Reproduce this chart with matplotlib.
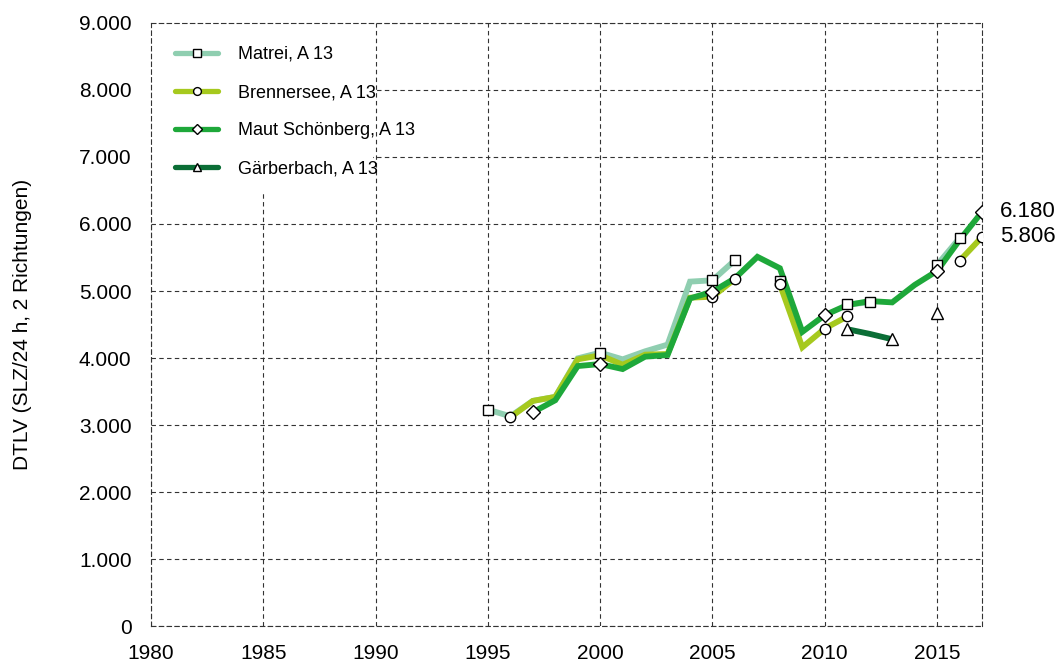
import numpy as np
import matplotlib
matplotlib.use("Agg")
import matplotlib.pyplot as plt
from matplotlib.ticker import FuncFormatter, MultipleLocator
from matplotlib.lines import Line2D
from matplotlib.patches import Rectangle

plt.rcParams['font.family'] = ['Liberation Sans', 'DejaVu Sans']

years = list(range(1995, 2018))
nan = np.nan
# values per year 1995..2017
matrei = [3230, 3130, 3360, 3420, 3995, 4080, 3980, 4100, 4200, 5140, 5160, 5460,
          nan, 5150, nan, nan, 4800, 4830, nan, nan, 5390, 5790, nan]
brennersee = [nan, 3115, 3360, 3420, 3980, 4040, 3900, 4050, 4060, 4900, 4915, 5180,
              nan, 5100, 4160, 4440, 4620, nan, nan, nan, nan, 5450, 5806]
maut = [nan, nan, 3190, 3370, 3880, 3910, 3835, 4020, 4045, 4890, 4990, 5190,
        5510, 5340, 4390, 4640, 4790, 4850, 4830, 5090, 5300, 5760, 6180]
gaerberbach = [nan, nan, nan, nan, nan, nan, nan, nan, nan, nan, nan, nan,
               nan, nan, nan, nan, 4430, 4360, 4280, nan, 4670, nan, nan]

matrei_markers = [1995, 2000, 2005, 2006, 2008, 2011, 2012, 2015, 2016]
brennersee_markers = [1996, 2005, 2006, 2008, 2010, 2011, 2016, 2017]
maut_markers = [1997, 2000, 2005, 2010, 2015, 2017]
gaerberbach_markers = [2011, 2013, 2015]

labels = ["Matrei, A 13", "Brennersee, A 13", "Maut Schönberg, A 13", "Gärberbach, A 13"]
colors = ["#8fceb0", "#a6c91e", "#1ea83a", "#0b6e36"]
markers = ["s", "o", "D", "^"]
msizes = [7.5, 7.5, 7, 8.5]

fig = plt.figure(figsize=(10.59, 6.66), dpi=100)
ax = fig.add_axes([0.1426, 0.060, 0.7847, 0.9055])

series = [matrei, brennersee, maut, gaerberbach]
mk_years = [matrei_markers, brennersee_markers, maut_markers, gaerberbach_markers]
for vals, mky, lab, col, mk, ms in zip(series, mk_years, labels, colors, markers, msizes):
    idx = [years.index(y) for y in mky]
    ax.plot(years, vals, color=col, lw=4.2, solid_capstyle='butt', solid_joinstyle='miter',
            label=lab, zorder=2)
    ax.plot([years[i] for i in idx], [vals[i] for i in idx], linestyle='none',
            marker=mk, ms=ms, mfc='white', mec='black', mew=1.0, zorder=3)

# white background behind the legend (covers the grid there)
ax.add_patch(Rectangle((0, 0.72), 0.267, 0.28, transform=ax.transAxes,
                       facecolor='white', edgecolor='none', zorder=1))

handles = [Line2D([0], [0], color=c, lw=3.8, marker=m, ms=ms * 0.75, mfc='white',
                  mec='black', mew=1.0, solid_capstyle='round')
           for c, m, ms in zip(colors, markers, msizes)]
leg = ax.legend(handles, labels, loc='upper left', bbox_to_anchor=(0.029, 0.962),
                frameon=False, fontsize=13, handlelength=2.38, handletextpad=1.1,
                labelspacing=1.17, borderpad=0, borderaxespad=0)

ax.set_xlim(1980, 2017)
ax.set_ylim(0, 9000)
ax.xaxis.set_major_locator(MultipleLocator(5))
ax.yaxis.set_major_locator(MultipleLocator(1000))
ax.yaxis.set_major_formatter(FuncFormatter(lambda v, p: f"{int(v):,}".replace(",", ".")))
ax.tick_params(length=0, labelsize=15)
ax.tick_params(axis='x', pad=13)
ax.tick_params(axis='y', pad=14)
ax.grid(True, color='#333333', linestyle=(0, (4, 3)), lw=0.8)
for s in ax.spines.values():
    s.set_linestyle((0, (4, 3)))
    s.set_linewidth(0.8)
    s.set_color('#333333')
ax.set_axisbelow(True)

ax.set_ylabel("DTLV (SLZ/24 h, 2 Richtungen)", fontsize=15, labelpad=34)

ax.annotate("6.180", xy=(2017, maut[-1]), xytext=(13, 0), textcoords='offset points',
            fontsize=16, va='center', ha='left', annotation_clip=False)
ax.annotate("5.806", xy=(2017, brennersee[-1]), xytext=(13, 0), textcoords='offset points',
            fontsize=16, va='center', ha='left', annotation_clip=False)

fig.savefig("out.png", dpi=100)
